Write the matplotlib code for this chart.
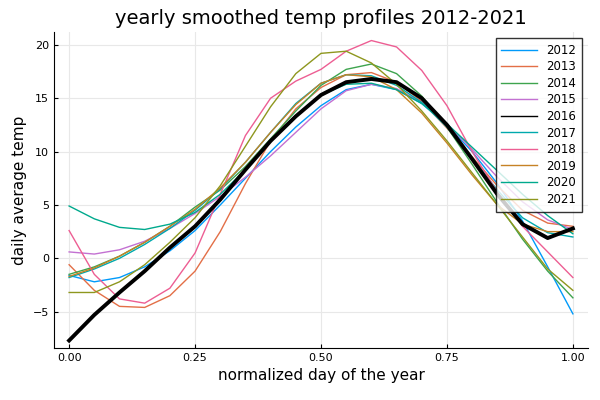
import numpy as np
import matplotlib
matplotlib.use("Agg")
import matplotlib.pyplot as plt

# normalized day positions (step 0.05)
xs = np.linspace(0, 1, 21)

years = [2012, 2013, 2014, 2015, 2016, 2017, 2018, 2019, 2020, 2021]
colors = ["#009afa", "#e36f47", "#3ea44e", "#c371d2", "black",
          "#00a9ad", "#ed5e93", "#c68225", "#00a98d", "#8e971e"]

t2012 = [-1.6, -2.2, -1.8, -0.8, 0.7, 2.6, 5, 7.5, 10, 12.3, 14.3, 15.8, 16.3, 15.8, 14.5, 12.5, 10, 7, 3.5, -0.8, -5.2]
t2013 = [-0.6, -3.0, -4.5, -4.6, -3.5, -1.2, 2.5, 7, 11, 14, 16, 17.2, 17.4, 16.5, 14.7, 12.2, 9.5, 6.8, 4.5, 3.3, 3.0]
t2014 = [-1.5, -0.8, 0.2, 1.5, 3.0, 4.8, 6.4, 8.6, 11.2, 13.8, 16.2, 17.7, 18.2, 17.3, 15.2, 12.3, 8.8, 5.2, 1.8, -1.2, -3.7]
t2015 = [0.6, 0.4, 0.8, 1.6, 2.8, 4.2, 5.8, 7.6, 9.6, 11.8, 14, 15.7, 16.3, 15.9, 14.6, 12.6, 10.2, 7.6, 5.3, 3.6, 2.7]
t2016 = [-7.7, -5.3, -3.2, -1.2, 1.0, 3.0, 5.5, 8.3, 11, 13.3, 15.3, 16.5, 16.8, 16.5, 15, 12.5, 9.3, 6.0, 3.2, 1.9, 2.8]
t2017 = [-1.8, -1.0, 0.0, 1.3, 2.8, 4.5, 6.5, 9, 11.8, 14.5, 16.4, 17.2, 17.1, 16.2, 14.6, 12.3, 9.4, 6.4, 3.8, 2.4, 2.0]
t2018 = [2.6, -1.5, -3.8, -4.2, -2.8, 0.5, 6, 11.5, 15, 16.6, 17.7, 19.4, 20.4, 19.8, 17.6, 14.3, 10, 6.2, 3.0, 0.6, -1.8]
t2019 = [-1.7, -0.9, 0.2, 1.5, 3.0, 4.6, 6.6, 9, 11.8, 14.4, 16.4, 17.2, 17.0, 15.8, 13.6, 10.8, 7.8, 5.0, 3.2, 2.5, 2.5]
t2020 = [4.9, 3.7, 2.9, 2.7, 3.2, 4.3, 6.0, 8.3, 11, 13.4, 15.3, 16.3, 16.4, 15.8, 14.5, 12.6, 10.4, 8.2, 6.0, 4.0, 2.3]
t2021 = [-3.2, -3.2, -2.2, -0.6, 1.5, 3.8, 6.8, 10.5, 14.2, 17.3, 19.2, 19.4, 18.3, 16.3, 13.8, 11, 8, 5, 2, -1, -3]
temps = [t2012, t2013, t2014, t2015, t2016, t2017, t2018, t2019, t2020, t2021]

fig, ax = plt.subplots(figsize=(6, 4), dpi=100)
for yr, c, t in zip(years, colors, temps):
    lw = 2.8 if yr == 2016 else 1
    ax.plot(xs, t, color=c, lw=lw, label=str(yr), zorder=3 if yr == 2016 else 2)

ax.set_title("yearly smoothed temp profiles 2012-2021", fontsize=14)
ax.set_xlabel("normalized day of the year", fontsize=11)
ax.set_ylabel("daily average temp", fontsize=11)
ax.set_xticks([0, 0.25, 0.5, 0.75, 1.0])
ax.set_xticklabels(["0.00", "0.25", "0.50", "0.75", "1.00"])
ax.set_yticks([-5, 0, 5, 10, 15, 20])
ax.set_xlim(-0.03, 1.03)
ax.set_ylim(-8.4, 21.2)
ax.tick_params(labelsize=8, direction="in", length=3)
ax.grid(True, color="#e8e8e8", lw=0.8)
for s in ["top", "right"]:
    ax.spines[s].set_visible(False)
leg = ax.legend(loc="upper right", fontsize=8.5, fancybox=False, edgecolor="black",
                handlelength=3, labelspacing=0.3, borderpad=0.5)
for h in leg.get_lines():
    h.set_linewidth(1)
fig.subplots_adjust(left=0.09, right=0.98, top=0.92, bottom=0.13)
fig.savefig("out.png")
